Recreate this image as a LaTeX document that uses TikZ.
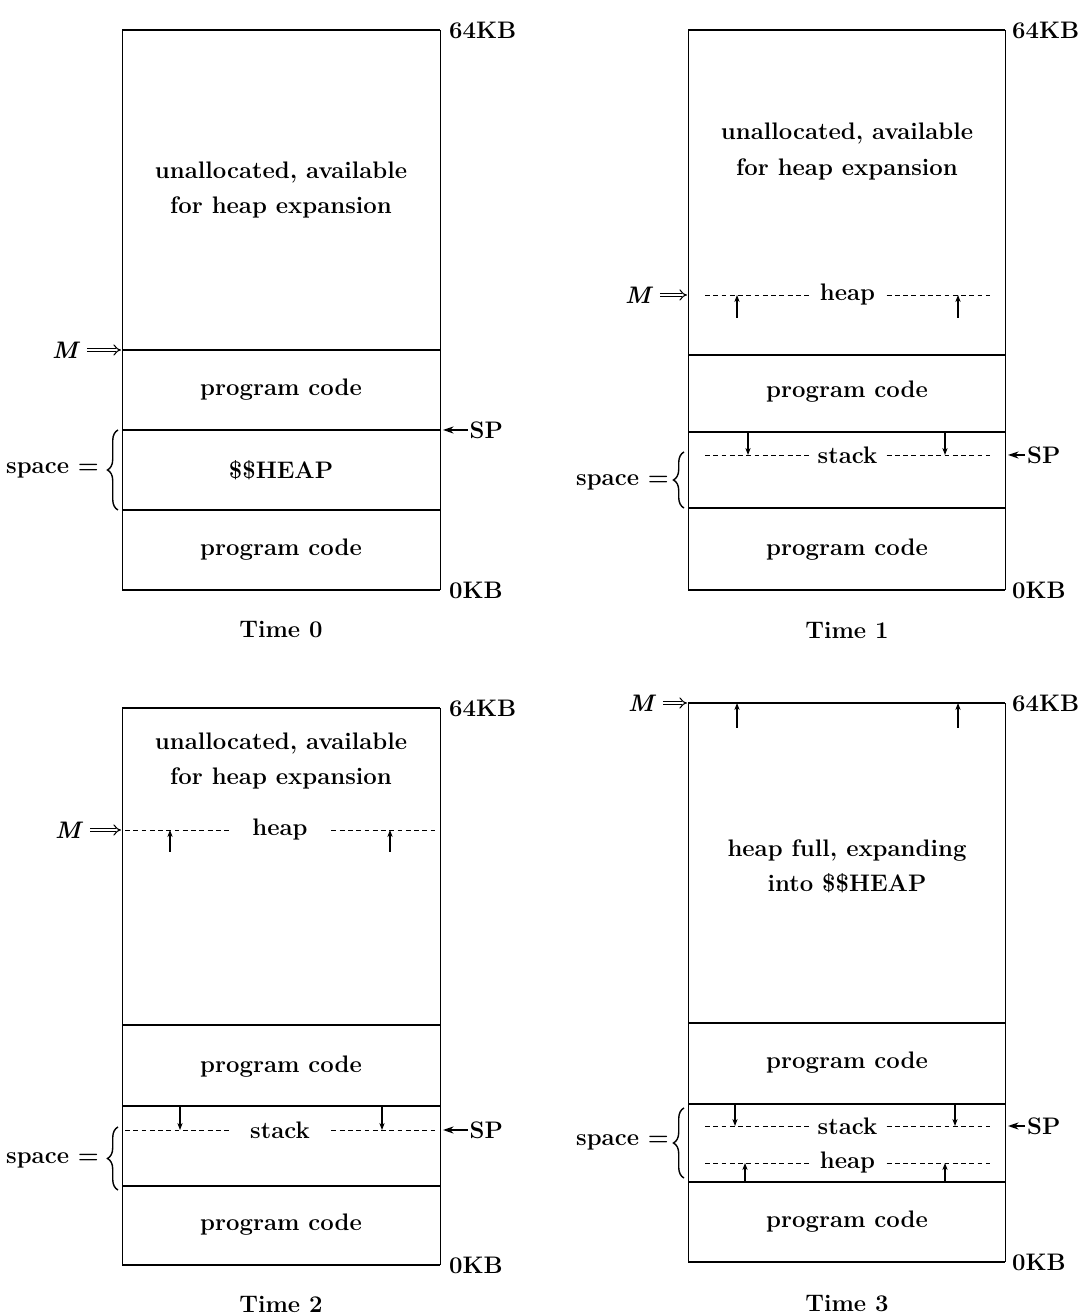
\documentclass[tikz,border=0pt]{standalone}
\usepackage{amsmath,amssymb}
\usepackage{tikz}
\usetikzlibrary{arrows.meta,decorations.pathreplacing}

\begin{document}
\begin{tikzpicture}[
  txt/.style={font=\fontsize{13.6}{20}\selectfont\bfseries, inner sep=1pt},
  addr/.style={txt, anchor=west},
  mname/.style={txt, font=\fontsize{13.6}{20}\selectfont\bfseries\itshape},
  side/.style={thin},
  divider/.style={thick},
  dashline/.style={thin, dash pattern=on 2.8pt off 1.9pt},
  gap/.style={txt, fill=white, inner xsep=5pt, inner ysep=0pt},
  ptr/.style={-{Stealth[length=4pt,width=3pt]}, semithick},
  mptr/.style={double, double distance=1.6pt, semithick, -{Implies}, shorten <=4pt},
  sptr/.style={-{Stealth[length=6pt,width=4pt]}, thick},
  spacebrace/.style={decorate, decoration={brace, amplitude=6pt}, thick},
]
\useasboundingbox (0,0) rectangle (21.8,26.32);

% --- Time 0 ---
\draw[side] (2.44,14.52) -- (2.44,25.72) (8.8,14.52) -- (8.8,25.72);
\draw[divider] (2.44,25.72) -- (8.8,25.72);
\draw[divider] (2.44,19.32) -- (8.8,19.32);
\draw[divider] (2.44,17.72) -- (8.8,17.72);
\draw[divider] (2.44,16.12) -- (8.8,16.12);
\draw[divider] (2.44,14.52) -- (8.8,14.52);
\node[txt, align=center] (free0) at (5.62,22.52) {unallocated, available\\for heap expansion};
\node[txt] (code0a) at (5.62,18.52) {program code};
\node[txt] (heap0) at (5.62,16.92) {\$\$HEAP};
\node[txt] (code0b) at (5.62,15.32) {program code};
\node[addr] (top0) at (8.94,25.72) {64KB};
\node[addr] (bot0) at (8.94,14.52) {0KB};
\node[txt] (time0) at (5.62,13.72) {Time 0};

\node[mname] (m0) at (1.3,19.32) {M};
\coordinate (m0tip) at (2.42,19.32);
\draw[mptr] (m0.east) -- (m0tip);
\node[addr] (sp0) at (9.35,17.72) {SP};
\coordinate (sp0tip) at (8.86,17.72);
\draw[sptr] (sp0.west) -- (sp0tip);
\draw[spacebrace] (2.36,16.12) -- (2.36,17.72);
\node[txt, anchor=east] (space0) at (2.02,16.92) {space =};

% --- Time 1 ---
\draw[side] (13.76,14.52) -- (13.76,25.72) (20.1,14.52) -- (20.1,25.72);
\draw[divider] (13.76,25.72) -- (20.1,25.72);
\draw[divider] (13.76,19.22) -- (20.1,19.22);
\draw[divider] (13.76,17.68) -- (20.1,17.68);
\draw[divider] (13.76,16.16) -- (20.1,16.16);
\draw[divider] (13.76,14.52) -- (20.1,14.52);
\node[txt, align=center] (free1) at (16.94,23.29) {unallocated, available\\for heap expansion};
\node[txt] (code1a) at (16.94,18.48) {program code};
\node[txt] (code1b) at (16.94,15.32) {program code};
\node[addr] (top1) at (20.2,25.72) {64KB};
\node[addr] (bot1) at (20.2,14.52) {0KB};
\node[txt] (time1) at (16.94,13.72) {Time 1};

% heap grows up, stack grows down
\draw[dashline] (14.1,20.42) -- (19.8,20.42) node[gap, midway] (heap1) {heap};
\draw[ptr] (14.74,19.96) -- (14.74,20.42);
\draw[ptr] (19.16,19.96) -- (19.16,20.42);
\draw[dashline] (14.1,17.22) -- (19.8,17.22) node[gap, midway] (stack1) {stack};
\draw[ptr] (14.96,17.68) -- (14.96,17.22);
\draw[ptr] (18.9,17.68) -- (18.9,17.22);

\node[mname] (m1) at (12.76,20.42) {M};
\coordinate (m1tip) at (13.74,20.42);
\draw[mptr] (m1.east) -- (m1tip);
\node[addr] (sp1) at (20.5,17.22) {SP};
\coordinate (sp1tip) at (20.16,17.22);
\draw[sptr] (sp1.west) -- (sp1tip);
\draw[spacebrace] (13.68,16.16) -- (13.68,17.28);
\node[txt, anchor=east] (space1) at (13.42,16.68) {space =};

% --- Time 2 ---
\draw[side] (2.44,1.02) -- (2.44,12.16) (8.8,1.02) -- (8.8,12.16);
\draw[divider] (2.44,12.16) -- (8.8,12.16);
\draw[divider] (2.44,5.82) -- (8.8,5.82);
\draw[divider] (2.44,4.2) -- (8.8,4.2);
\draw[divider] (2.44,2.6) -- (8.8,2.6);
\draw[divider] (2.44,1.02) -- (8.8,1.02);
\node[txt, align=center] (free2) at (5.62,11.1) {unallocated, available\\for heap expansion};
\node[txt] (code2a) at (5.62,4.98) {program code};
\node[txt] (code2b) at (5.62,1.82) {program code};
\node[addr] (top2) at (8.94,12.16) {64KB};
\node[addr] (bot2) at (8.94,1.02) {0KB};
\node[txt] (time2) at (5.62,0.24) {Time 2};

\draw[dashline] (2.5,9.72) -- (8.7,9.72) node[gap, midway, inner xsep=12pt] (heap2) {heap};
\draw[ptr] (3.4,9.28) -- (3.4,9.72);
\draw[ptr] (7.8,9.28) -- (7.8,9.72);
\draw[dashline] (2.5,3.72) -- (8.7,3.72) node[gap, midway, inner xsep=12pt] (stack2) {stack};
\draw[ptr] (3.6,4.2) -- (3.6,3.72);
\draw[ptr] (7.64,4.2) -- (7.64,3.72);

\node[mname] (m2) at (1.36,9.72) {M};
\coordinate (m2tip) at (2.42,9.72);
\draw[mptr] (m2.east) -- (m2tip);
\node[addr] (sp2) at (9.35,3.72) {SP};
\coordinate (sp2tip) at (8.86,3.72);
\draw[sptr] (sp2.west) -- (sp2tip);
\draw[spacebrace] (2.36,2.52) -- (2.36,3.78);
\node[txt, anchor=east] (space2) at (2.02,3.12) {space =};

% --- Time 3 ---
\draw[side] (13.76,1.08) -- (13.76,12.26) (20.1,1.08) -- (20.1,12.26);
\draw[divider] (13.76,12.26) -- (20.1,12.26);
\draw[divider] (13.76,5.86) -- (20.1,5.86);
\draw[divider] (13.76,4.24) -- (20.1,4.24);
\draw[divider] (13.76,2.68) -- (20.1,2.68);
\draw[divider] (13.76,1.08) -- (20.1,1.08);
\node[txt, align=center] (full3) at (16.94,8.99) {heap full, expanding\\into \$\$HEAP};
\node[txt] (code3a) at (16.94,5.06) {program code};
\node[txt] (code3b) at (16.94,1.88) {program code};
\node[addr] (top3) at (20.2,12.26) {64KB};
\node[addr] (bot3) at (20.2,1.08) {0KB};
\node[txt] (time3) at (16.94,0.24) {Time 3};

\draw[ptr] (14.74,11.76) -- (14.74,12.26);
\draw[ptr] (19.16,11.76) -- (19.16,12.26);
\draw[dashline] (14.1,3.8) -- (19.8,3.8) node[gap, midway] (stack3) {stack};
\draw[ptr] (14.7,4.24) -- (14.7,3.8);
\draw[ptr] (19.1,4.24) -- (19.1,3.8);
\draw[dashline] (14.1,3.06) -- (19.8,3.06) node[gap, midway] (heap3) {heap};
\draw[ptr] (14.9,2.68) -- (14.9,3.06);
\draw[ptr] (18.9,2.68) -- (18.9,3.06);

\node[mname] (m3) at (12.82,12.26) {M};
\coordinate (m3tip) at (13.74,12.26);
\draw[mptr] (m3.east) -- (m3tip);
\node[addr] (sp3) at (20.5,3.8) {SP};
\coordinate (sp3tip) at (20.16,3.8);
\draw[sptr] (sp3.west) -- (sp3tip);
\draw[spacebrace] (13.68,2.76) -- (13.68,4.16);
\node[txt, anchor=east] (space3) at (13.42,3.48) {space =};

\end{tikzpicture}
\end{document}
